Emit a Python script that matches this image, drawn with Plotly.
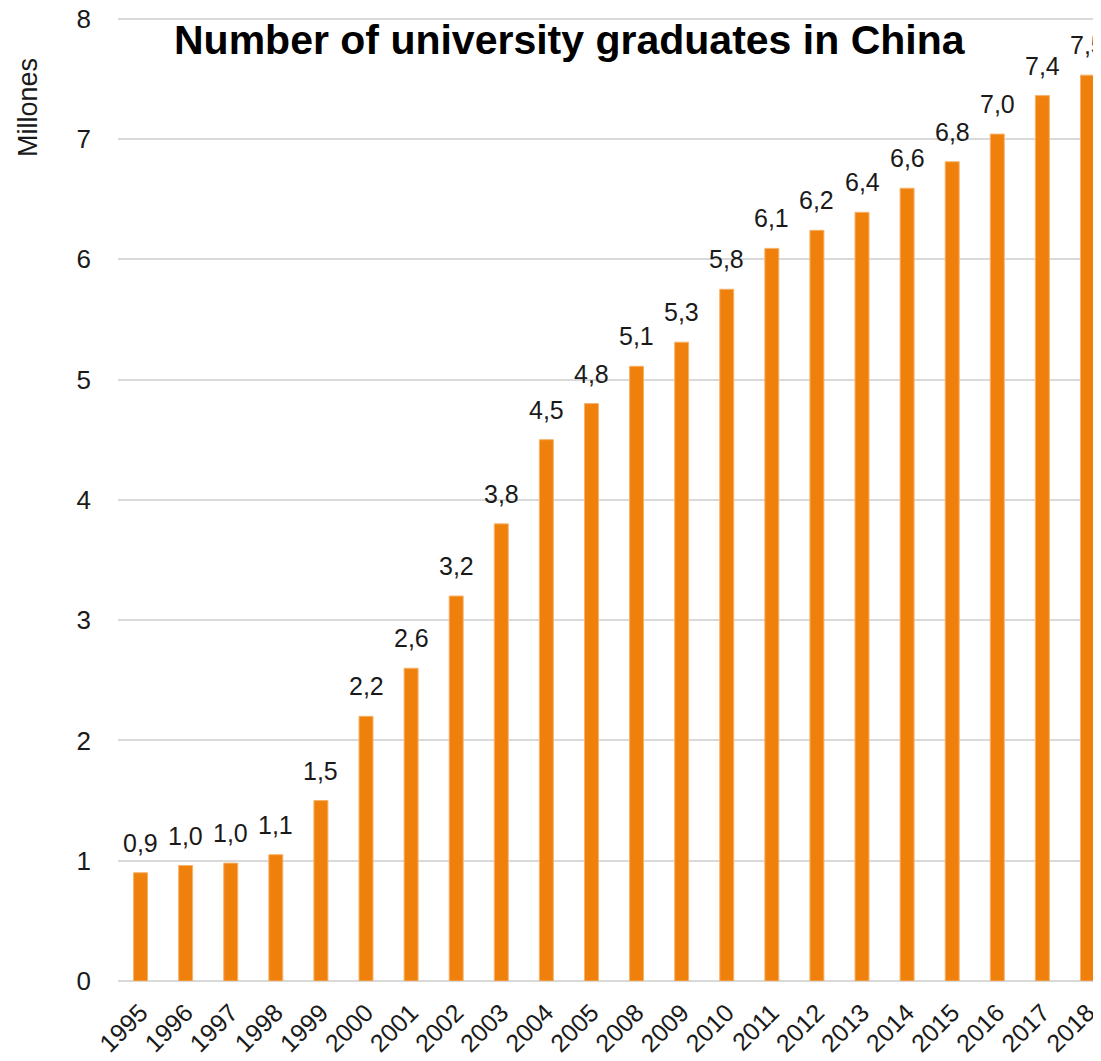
import plotly.graph_objects as go

years = ["1995", "1996", "1997", "1998", "1999", "2000", "2001", "2002", "2003", "2004", "2005",
         "2008", "2009", "2010", "2011", "2012", "2013", "2014", "2015", "2016", "2017", "2018"]
graduates = [0.90, 0.96, 0.98, 1.05, 1.50, 2.20, 2.60, 3.20, 3.80, 4.50, 4.80,
             5.11, 5.31, 5.75, 6.09, 6.24, 6.39, 6.59, 6.81, 7.04, 7.36, 7.53]
y_ticks = [0, 1, 2, 3, 4, 5, 6, 7, 8]

FONT = "Liberation Sans Narrow, Arial Narrow, Liberation Sans, Arial, sans-serif"
ORANGE = "#EF800C"
TXT = "#1a1a1a"

# page body has an 8px margin, so the figure is drawn 8px in from the top-left corner
FW, FH = 1093, 1053
L, R, T, B = 110, 0, 7, 80
PW, PH = FW - L - R, FH - T - B

fig = go.Figure(go.Bar(
    x=years, y=graduates,
    marker=dict(color=ORANGE, line=dict(color="#F6B26B", width=1)),
    width=0.31,
))

# data labels above the bars (category index positions)
for i, v in enumerate(graduates):
    fig.add_annotation(
        x=i, y=v, xref="x", yref="y", text=f"{v:.1f}".replace(".", ","),
        showarrow=False, yanchor="bottom", xanchor="center", yshift=14,
        font=dict(size=25, family=FONT, color=TXT),
    )

fig.add_annotation(
    text="<b>Number of university graduates in China</b>",
    x=(562 - L) / PW, y=(FH - B - 32) / PH, xref="paper", yref="paper",
    xanchor="center", yanchor="middle", showarrow=False,
    font=dict(size=41, family=FONT, color="black"),
)
fig.add_annotation(
    text="Millones", x=(20 - L) / PW, y=(FH - B - 100) / PH, xref="paper", yref="paper",
    xanchor="center", yanchor="middle", showarrow=False, textangle=-90,
    font=dict(size=27, family=FONT, color=TXT),
)

fig.update_layout(
    width=FW, height=FH,
    paper_bgcolor="white", plot_bgcolor="white",
    margin=dict(l=L, r=R, t=T, b=B, autoexpand=False),
    font=dict(family=FONT, color=TXT),
    showlegend=False,
)

fig.update_xaxes(
    type="category",
    range=[-0.5, 21.3], tickangle=-45, showgrid=False, showline=False, ticks="",
    automargin=False, ticklabelstandoff=11, ticklabeloverflow="allow",
    tickfont=dict(size=25, family=FONT, color=TXT),
)
fig.update_yaxes(
    range=[0, 8.03], tickvals=y_ticks, showgrid=True, gridcolor="#d9d9d9", gridwidth=2,
    zeroline=True, zerolinecolor="#d9d9d9", zerolinewidth=2, showline=False, ticks="",
    automargin=False, ticklabelstandoff=26, ticklabeloverflow="allow",
    tickfont=dict(size=26, family=FONT, color=TXT),
)

fig.write_html("out.html")
